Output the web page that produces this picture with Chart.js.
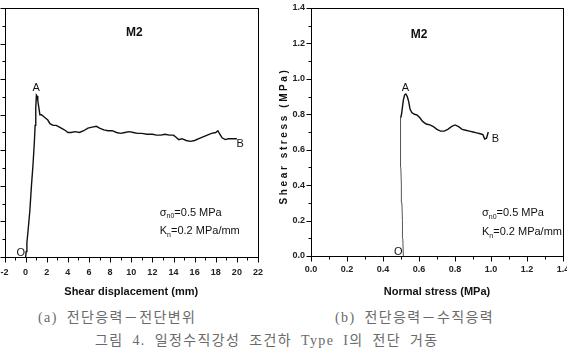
<!DOCTYPE html>
<html>
<head>
<meta charset="utf-8">
<script src="https://cdn.jsdelivr.net/npm/chart.js@4.4.0/dist/chart.umd.min.js"></script>
<style>
body{margin:0;background:#fff;}
#wrap{position:relative;width:567px;height:357px;overflow:hidden;background:#fff;}
canvas{position:absolute;top:0;}
#c1{left:0;}
#c2{left:272px;}
.cap{position:absolute;font-family:"Liberation Serif","Noto Sans CJK KR",serif;color:#6a6a6a;font-size:14px;line-height:16px;letter-spacing:1.4px;word-spacing:4px;white-space:nowrap;}
</style>
</head>
<body>
<div id="wrap">
<canvas id="c1" width="280" height="300"></canvas>
<canvas id="c2" width="295" height="300"></canvas>
<div class="cap" style="left:38px;top:310px">(a) 전단응력－전단변위</div>
<div class="cap" style="left:335px;top:310px">(b) 전단응력－수직응력</div>
<div class="cap" style="left:95px;top:333px">그림 4. 일정수직강성 조건하 Type I의 전단 거동</div>
</div>
<script>
// (a) shear stress vs shear displacement
var dispMm = [0.0, 0.05, 0.12, 0.25, 0.4, 0.55, 0.7, 0.82, 0.9, 0.96, 1.02, 1.08, 1.15, 1.25, 1.35, 1.5, 1.7, 1.9,
  2.1, 2.3, 2.6, 2.9, 3.2, 3.5, 3.8, 4.0, 4.3, 4.7, 5.1, 5.5, 5.9, 6.3, 6.7, 7.0, 7.4, 7.8, 8.2, 8.6, 9.0, 9.4,
  9.8, 10.2, 10.6, 11.0, 11.5, 12.0, 12.4, 12.8, 13.2, 13.6, 14.0, 14.3, 14.5, 14.8, 15.2, 15.6, 16.0, 16.4,
  16.8, 17.2, 17.6, 18.0, 18.2, 18.4, 18.6, 18.9, 19.2, 19.6, 20.0];
var tauA = [0.0, 0.03, 0.08, 0.16, 0.26, 0.40, 0.52, 0.64, 0.74, 0.84, 0.91, 0.905, 0.88, 0.84, 0.80, 0.80, 0.79, 0.78,
  0.77, 0.75, 0.74, 0.74, 0.73, 0.72, 0.71, 0.70, 0.70, 0.705, 0.70, 0.71, 0.725, 0.73, 0.735, 0.725, 0.715, 0.71,
  0.71, 0.70, 0.695, 0.70, 0.705, 0.70, 0.695, 0.695, 0.69, 0.69, 0.685, 0.685, 0.69, 0.685, 0.685, 0.67, 0.66,
  0.665, 0.655, 0.65, 0.655, 0.665, 0.675, 0.685, 0.695, 0.70, 0.71, 0.69, 0.67, 0.66, 0.665, 0.665, 0.665];

// (b) shear stress vs normal stress
var riseSigma = [0.513, 0.51, 0.508, 0.505, 0.502, 0.499, 0.497, 0.497, 0.498];
var riseTau = [0.0, 0.1, 0.2, 0.3, 0.4, 0.5, 0.6, 0.7, 0.78];
var pathSigma = [0.498, 0.503, 0.508, 0.513, 0.52, 0.527, 0.535, 0.543, 0.55, 0.56, 0.575, 0.59, 0.605, 0.62, 0.64,
  0.66, 0.68, 0.70, 0.72, 0.74, 0.76, 0.78, 0.80, 0.82, 0.84, 0.86, 0.88, 0.90, 0.92, 0.94, 0.955, 0.965, 0.975, 0.985];
var pathTau = [0.78, 0.80, 0.84, 0.88, 0.91, 0.915, 0.90, 0.87, 0.83, 0.81, 0.80, 0.795, 0.78, 0.76, 0.745,
  0.74, 0.73, 0.715, 0.705, 0.705, 0.715, 0.73, 0.74, 0.73, 0.715, 0.71, 0.705, 0.70, 0.695, 0.69, 0.685, 0.66, 0.665, 0.70];

var tauMin = 0, tauMax = 1.4, tauStep = 0.2;
var dispMin = -2, dispMax = 22, dispStep = 2;
var sigMin = 0, sigMax = 1.4, sigStep = 0.2;

function pts(xs, ys) {
  var out = [];
  for (var i = 0; i < xs.length; i++) out.push({x: xs[i], y: ys[i]});
  return out;
}

var narrow = "'Liberation Sans Narrow', 'Liberation Sans', Arial, sans-serif";
var tickFont = {family: narrow, size: 9, weight: 'bold'};

function marks(cfg) {
  return {
    id: 'marks',
    afterDraw: function (chart) {
      var ctx = chart.ctx, a = chart.chartArea, sx = chart.scales.x, sy = chart.scales.y;
      ctx.save();
      ctx.strokeStyle = '#000';
      ctx.lineWidth = 1;
      var l = Math.round(a.left) + 0.5, r = Math.round(a.right) + 0.5;
      var t = Math.round(a.top) + 0.5, b = Math.round(a.bottom) + 0.5;
      ctx.strokeRect(l, t, r - l, b - t);
      ctx.beginPath();
      var k, px, len;
      var nx = Math.round((cfg.xMax - cfg.xMin) / cfg.xMinor);
      for (k = 0; k <= nx; k++) {
        px = Math.round(sx.getPixelForValue(cfg.xMin + k * cfg.xMinor)) + 0.5;
        len = (k % cfg.xRatio === 0) ? 5 : 3;
        ctx.moveTo(px, b); ctx.lineTo(px, b + len);
      }
      var ny = Math.round((cfg.yMax - cfg.yMin) / cfg.yMinor);
      for (k = 0; k <= ny; k++) {
        px = Math.round(sy.getPixelForValue(cfg.yMin + k * cfg.yMinor)) + 0.5;
        len = (k % cfg.yRatio === 0) ? 5 : 3;
        ctx.moveTo(l, px); ctx.lineTo(l - len, px);
      }
      ctx.stroke();

      ctx.fillStyle = '#111';
      ctx.textBaseline = 'middle';
      cfg.texts.forEach(function (it) {
        var x = sx.getPixelForValue(it.x), y = sy.getPixelForValue(it.y);
        ctx.textAlign = 'left';
        if (it.center) {
          var w = 0;
          it.parts.forEach(function (p) { ctx.font = p[1]; w += ctx.measureText(p[0]).width; });
          x -= w / 2;
        }
        it.parts.forEach(function (p) {
          ctx.font = p[1];
          ctx.fillText(p[0], x, y + p[2]);
          x += ctx.measureText(p[0]).width;
        });
      });

      ctx.font = 'bold 11px ' + narrow;
      ctx.textAlign = 'center';
      ctx.fillText(cfg.xTitle, (a.left + a.right) / 2, 292);
      if (cfg.yTitle) {
        ctx.translate(cfg.yTitleX, (a.top + a.bottom) / 2 + 4);
        ctx.rotate(-Math.PI / 2);
        ctx.font = 'bold 10px "Liberation Sans", Arial, sans-serif';
        ctx.letterSpacing = '2.6px';
        ctx.fillText(cfg.yTitle, 0, 0);
      }
      ctx.restore();
    }
  };
}

var fBig = 'bold 12px ' + narrow;
var fLet = '11px "Liberation Sans", Arial, sans-serif';
var fNote = '11px ' + narrow;
var fSub = '7px ' + narrow;

function noteParts(sub, rest) {
  return [[sub[0], fNote, 0], [sub[1], fSub, 4], [rest, fNote, 0]];
}

var textsA = [
  {parts: [['M2', fBig, 0]], x: 10.3, y: 1.26, center: true},
  {parts: [['A', fLet, 0]], x: 1.0, y: 0.95, center: true},
  {parts: [['B', fLet, 0]], x: 20.3, y: 0.635, center: true},
  {parts: [['O', fLet, 0]], x: -0.45, y: 0.02, center: true},
  {parts: noteParts(['σ', 'n0'], '=0.5 MPa'), x: 12.7, y: 0.25},
  {parts: noteParts(['K', 'n'], '=0.2 MPa/mm'), x: 12.7, y: 0.145}
];
var textsB = [
  {parts: [['M2', fBig, 0]], x: 0.6, y: 1.25, center: true},
  {parts: [['A', fLet, 0]], x: 0.525, y: 0.95, center: true},
  {parts: [['B', fLet, 0]], x: 1.025, y: 0.66, center: true},
  {parts: [['O', fLet, 0]], x: 0.485, y: 0.02, center: true},
  {parts: noteParts(['σ', 'n0'], '=0.5 MPa'), x: 0.95, y: 0.243},
  {parts: noteParts(['K', 'n'], '=0.2 MPa/mm'), x: 0.95, y: 0.136}
];

function noPad(s) { s.paddingLeft = 0; s.paddingRight = 0; s.paddingTop = 0; s.paddingBottom = 0; }

new Chart(document.getElementById('c1'), {
  type: 'line',
  data: {
    datasets: [{
      data: pts(dispMm, tauA),
      borderColor: '#111', borderWidth: 1.4, pointRadius: 0, tension: 0, fill: false
    }]
  },
  options: {
    responsive: false, animation: false,
    layout: {padding: {left: 0, right: 22, top: 8, bottom: 0}},
    plugins: {legend: {display: false}, tooltip: {enabled: false}},
    scales: {
      x: {
        type: 'linear', min: dispMin, max: dispMax,
        ticks: {stepSize: dispStep, font: tickFont, color: '#222', padding: 10},
        grid: {display: false, drawTicks: false}, border: {display: false},
        afterFit: function (s) { s.height = 43; noPad(s); }
      },
      y: {
        min: tauMin, max: tauMax,
        ticks: {display: false, stepSize: tauStep},
        grid: {display: false, drawTicks: false}, border: {display: false},
        afterFit: function (s) { s.width = 4.5; noPad(s); }
      }
    }
  },
  plugins: [marks({xMin: dispMin, xMax: dispMax, xMinor: 1, xRatio: 2,
    yMin: tauMin, yMax: tauMax, yMinor: 0.1, yRatio: 2,
    texts: textsA, xTitle: 'Shear displacement (mm)'})]
});

new Chart(document.getElementById('c2'), {
  type: 'line',
  data: {
    datasets: [{
      data: pts(riseSigma, riseTau),
      borderColor: '#555', borderWidth: 1, pointRadius: 0, tension: 0, fill: false
    }, {
      data: pts(pathSigma, pathTau),
      borderColor: '#111', borderWidth: 1.4, pointRadius: 0, tension: 0, fill: false
    }]
  },
  options: {
    responsive: false, animation: false,
    layout: {padding: {left: 0, right: 4, top: 8, bottom: 0}},
    plugins: {legend: {display: false}, tooltip: {enabled: false}},
    scales: {
      x: {
        type: 'linear', min: sigMin, max: sigMax,
        ticks: {stepSize: sigStep, font: tickFont, color: '#222', padding: 8,
          callback: function (v) { return v.toFixed(1); }},
        grid: {display: false, drawTicks: false}, border: {display: false},
        afterFit: function (s) { s.height = 44; noPad(s); }
      },
      y: {
        min: tauMin, max: tauMax,
        ticks: {stepSize: tauStep, font: tickFont, color: '#222', padding: 6,
          callback: function (v) { return v.toFixed(1); }},
        grid: {display: false, drawTicks: false}, border: {display: false},
        afterFit: function (s) { s.width = 39; noPad(s); }
      }
    }
  },
  plugins: [marks({xMin: sigMin, xMax: sigMax, xMinor: 0.1, xRatio: 2,
    yMin: tauMin, yMax: tauMax, yMinor: 0.1, yRatio: 2,
    texts: textsB, xTitle: 'Normal stress (MPa)', yTitle: 'Shear stress (MPa)', yTitleX: 12})]
});
</script>
</body>
</html>
